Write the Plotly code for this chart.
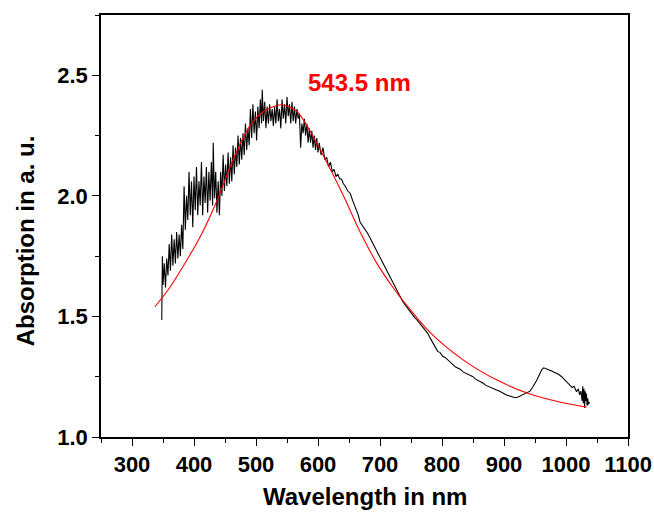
import plotly.graph_objects as go

spec_nm = [348, 349, 350, 352, 354, 356, 358, 360, 362, 364,
           366, 368, 370, 372, 374, 376, 378, 380, 382, 384,
           386, 388, 390, 392, 394, 396, 398, 400, 402, 404,
           406, 408, 410, 412, 414, 416, 418, 420, 422, 424,
           426, 428, 430, 431, 433, 435, 437, 439, 441, 443,
           445, 447, 449, 451, 453, 455, 457, 459, 461, 463,
           465, 467, 469, 471, 473, 475, 477, 479, 481, 483,
           485, 487, 489, 491, 493, 495, 497, 499, 501, 503,
           505, 507, 509, 510, 512, 514, 516, 518, 520, 522,
           524, 526, 528, 530, 532, 534, 536, 538, 540, 542,
           544, 546, 548, 550, 552, 554, 556, 558, 560, 562,
           564, 566, 568, 570, 572, 574, 576, 578, 580, 582,
           584, 586, 588, 590, 592, 594, 596, 598, 600, 602,
           605, 608, 611, 614, 617, 620, 623, 626, 629, 632,
           635, 638, 641, 644, 648, 652, 656, 659, 662, 665,
           668, 671, 674, 677, 680, 684, 688, 692, 695, 698,
           701, 705, 709, 713, 717, 721, 725, 729, 732, 736,
           740, 744, 748, 752, 756, 760, 765, 769, 773, 777,
           781, 785, 789, 793, 797, 801, 805, 809, 813, 818,
           822, 826, 830, 834, 838, 842, 846, 850, 854, 858,
           862, 866, 870, 874, 878, 883, 888, 893, 898, 904,
           909, 914, 918, 922, 926, 931, 936, 942, 946, 950,
           953, 957, 961, 964, 968, 972, 976, 980, 984, 988,
           993, 997, 1001, 1006, 1010, 1013, 1017, 1020, 1022, 1024,
           1026, 1027, 1028, 1029, 1030, 1031, 1032, 1033, 1034, 1035,
           1036, 1038]
spec_abs = [1.485, 1.75, 1.63, 1.72, 1.62, 1.74, 1.67, 1.80, 1.69, 1.84,
            1.71, 1.82, 1.72, 1.85, 1.74, 1.84, 1.75, 1.88, 1.78, 2.04,
            1.86, 2.00, 1.90, 2.10, 1.92, 2.06, 1.87, 2.08, 1.94, 2.12,
            1.92, 2.06, 1.96, 2.14, 1.92, 2.08, 1.97, 2.12, 1.93, 2.10,
            1.98, 2.14, 1.96, 2.22, 1.99, 2.10, 1.93, 2.06, 1.92, 2.10,
            2.00, 2.17, 2.02, 2.13, 2.04, 2.18, 2.05, 2.16, 2.06, 2.21,
            2.09, 2.20, 2.12, 2.25, 2.13, 2.24, 2.15, 2.26, 2.17, 2.30,
            2.19, 2.28, 2.21, 2.36, 2.24, 2.38, 2.26, 2.35, 2.23, 2.37,
            2.28, 2.40, 2.30, 2.44, 2.31, 2.39, 2.28, 2.37, 2.30, 2.38,
            2.31, 2.36, 2.29, 2.37, 2.30, 2.40, 2.31, 2.36, 2.28, 2.40,
            2.32, 2.38, 2.30, 2.41, 2.33, 2.38, 2.30, 2.39, 2.31, 2.37,
            2.30, 2.36, 2.32, 2.34, 2.20, 2.30, 2.26, 2.32, 2.25, 2.30,
            2.22, 2.28, 2.22, 2.27, 2.20, 2.25, 2.19, 2.24, 2.18, 2.22,
            2.17, 2.20, 2.15, 2.16, 2.12, 2.14, 2.10, 2.11, 2.08, 2.09,
            2.07, 2.07, 2.05, 2.04, 2.02, 2.01, 1.98, 1.96, 1.94, 1.92,
            1.89, 1.88, 1.865, 1.855, 1.845, 1.825, 1.805, 1.785, 1.77, 1.752,
            1.735, 1.715, 1.695, 1.677, 1.656, 1.636, 1.615, 1.597, 1.58, 1.565,
            1.55, 1.535, 1.52, 1.505, 1.495, 1.485, 1.47, 1.455, 1.445, 1.43,
            1.41, 1.39, 1.37, 1.355, 1.35, 1.335, 1.33, 1.32, 1.31, 1.30,
            1.29, 1.285, 1.28, 1.27, 1.265, 1.26, 1.255, 1.25, 1.24, 1.235,
            1.23, 1.224, 1.215, 1.21, 1.205, 1.20, 1.195, 1.19, 1.182, 1.174,
            1.17, 1.165, 1.163, 1.165, 1.17, 1.174, 1.18, 1.19, 1.205, 1.222,
            1.236, 1.258, 1.28, 1.287, 1.284, 1.28, 1.275, 1.27, 1.265, 1.26,
            1.25, 1.24, 1.23, 1.216, 1.205, 1.21, 1.188, 1.20, 1.175, 1.19,
            1.15, 1.21, 1.14, 1.20, 1.12, 1.19, 1.15, 1.18, 1.13, 1.16,
            1.135, 1.145]

# fitted curve
fit_nm = [337, 361, 383, 410, 437, 463, 490, 512, 541, 566, 587, 614,
          641, 668, 695, 721, 748, 781, 834, 888, 942, 995, 1033]
fit_abs = [1.54, 1.62, 1.71, 1.83, 1.98, 2.15, 2.29, 2.35, 2.378, 2.35, 2.27, 2.14,
           2.00, 1.85, 1.72, 1.62, 1.53, 1.433, 1.32, 1.237, 1.178, 1.142, 1.124]

peak_label = "543.5 nm"
peak_label_pos = (667, 2.47)

x_ticks = [300, 400, 500, 600, 700, 800, 900, 1000, 1100]
y_ticks = [1.0, 1.5, 2.0, 2.5]

FONT = "Liberation Sans, Arial, Helvetica, sans-serif"

fig = go.Figure()
fig.add_trace(go.Scatter(x=spec_nm, y=spec_abs, mode="lines",
                         line=dict(color="black", width=1.1), showlegend=False))
fig.add_trace(go.Scatter(x=fit_nm, y=fit_abs, mode="lines",
                         line=dict(color="#ff0000", width=1.1, shape="spline", smoothing=0.8),
                         showlegend=False))

fig.add_annotation(x=peak_label_pos[0], y=peak_label_pos[1], text=peak_label, showarrow=False,
                   font=dict(family=FONT, size=24, color="#ff0000", weight="bold"),
                   xanchor="center", yanchor="middle")
fig.add_annotation(x=0.5, y=-0.142, xref="paper", yref="paper", text="Wavelength in nm",
                   showarrow=False, font=dict(family=FONT, size=24, color="black", weight="bold"),
                   xanchor="center", yanchor="middle")
fig.add_annotation(x=-0.144, y=0.464, xref="paper", yref="paper", text="Absorption in a. u.",
                   textangle=-90, showarrow=False,
                   font=dict(family=FONT, size=24, color="black", weight="bold"),
                   xanchor="center", yanchor="middle")

axis_common = dict(showline=True, linecolor="black", linewidth=1.6, mirror=True,
                   ticks="outside", ticklen=7, tickwidth=1.4, tickcolor="black",
                   showgrid=False, zeroline=False, automargin=False,
                   tickfont=dict(family=FONT, size=22, color="black", weight="bold"))

fig.update_xaxes(range=[250, 1100], tickvals=x_ticks, ticktext=[str(v) for v in x_ticks],
                 minor=dict(dtick=50, tick0=250, ticks="outside", ticklen=4, tickwidth=1.4,
                            tickcolor="black"),
                 **axis_common)
fig.update_yaxes(range=[1.0, 2.75], tickvals=y_ticks, ticktext=[f"{v:.1f}" for v in y_ticks],
                 minor=dict(dtick=0.25, tick0=1.0, ticks="outside", ticklen=4, tickwidth=1.4,
                            tickcolor="black"),
                 **axis_common)

fig.update_layout(width=654, height=515, margin=dict(l=101, r=26, t=15, b=78),
                  paper_bgcolor="white", plot_bgcolor="white",
                  font=dict(family=FONT, color="black"))

fig.write_html("out.html", config={"displayModeBar": False},
               post_script="document.body.style.margin='0px';")
